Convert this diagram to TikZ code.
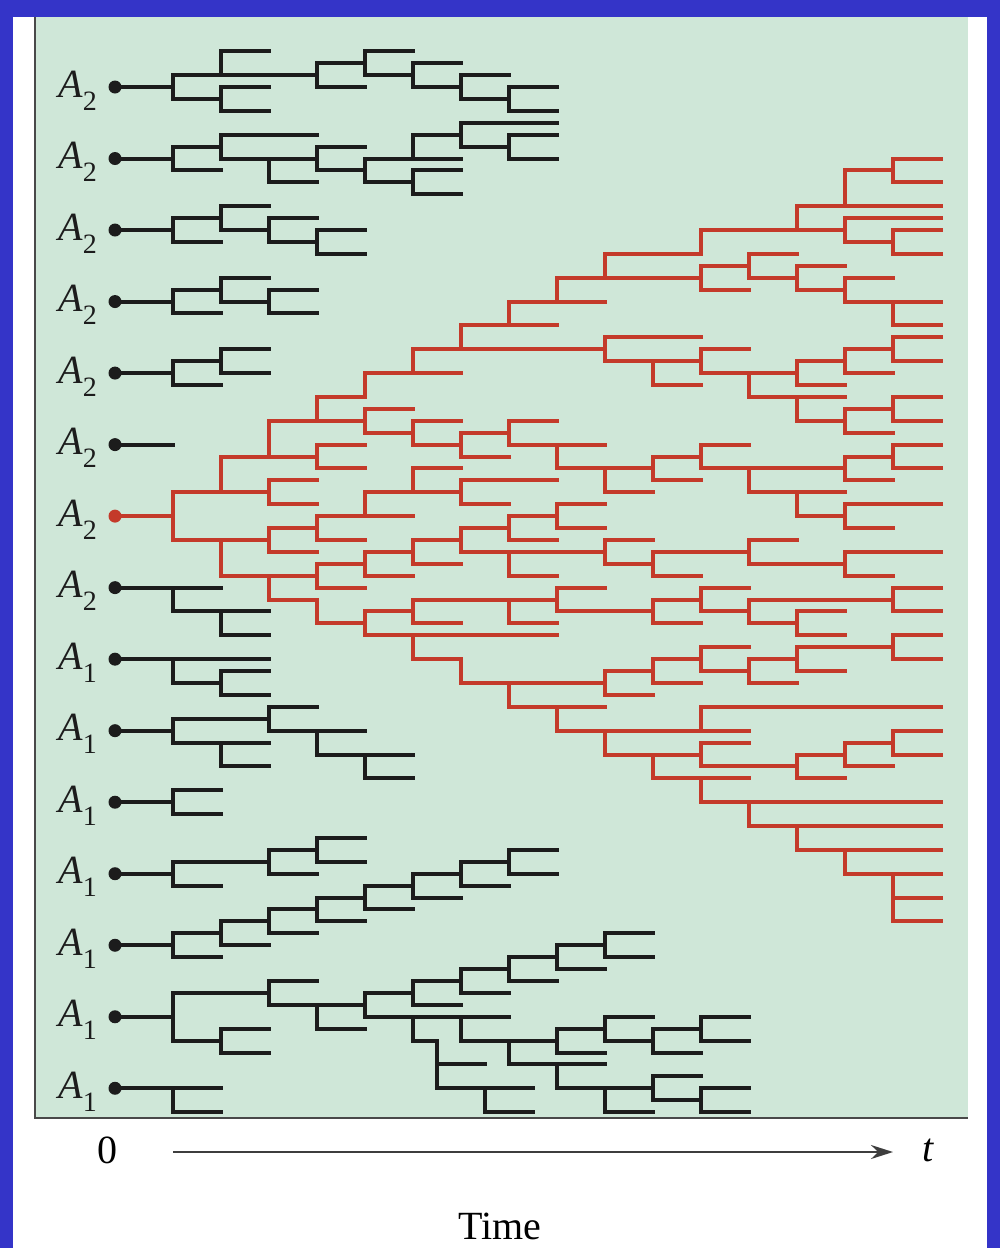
\documentclass[tikz,border=0pt]{standalone}
\usepackage{fontspec}
\setmainfont{Liberation Serif}
\usetikzlibrary{arrows.meta}
\definecolor{bluebd}{RGB}{52,52,200}
\definecolor{panel}{RGB}{207,231,216}
\definecolor{redl}{RGB}{196,58,42}
\definecolor{blk}{RGB}{28,28,28}
\def\rb{0}
\newcommand\hz[3]{\draw ({173+48*(#2)},{87+11.92*(\rb+(#1))}) -- ({173+48*(#3)},{87+11.92*(\rb+(#1))});}
\newcommand\vt[3]{\draw ({173+48*(#1)},{87+11.92*(\rb+(#2))}) -- ({173+48*(#1)},{87+11.92*(\rb+(#3))});}
\newcommand\rt[1]{\draw (115,{87+11.92*\rb}) -- ({173+48*(#1)},{87+11.92*\rb});}
\newcommand\sub[1]{\raisebox{-.33em}{\fontsize{28}{28}\selectfont #1}}
\newcommand\lab[2]{\node[lbl] (lab#1) at (97,{97+11.92*6*#1}) {{\itshape A}\sub{#2}};
  \fill (115,{87+11.92*6*#1}) circle (6.5);}
\begin{document}
\begin{tikzpicture}[x=1pt,y=-1pt,
  lbl/.style={anchor=base east,inner sep=0pt,font=\fontsize{40}{44}\selectfont},
  tr/.style={line width=4pt,line cap=rect},
  axl/.style={font=\fontsize{40}{44}\selectfont,inner sep=0pt}]
\useasboundingbox (0,0) rectangle (1000,1248);
\fill[bluebd] (0,0) rectangle (1000,1248);
\fill[white] (13,17) rectangle (987,1248);
\fill[panel] (35,17) rectangle (968,1118);
\draw[line width=2pt,blk!80] (35,17) -- (35,1118) -- (968,1118);
% labels and dots
\begin{scope}[blk]
\lab{0}{2}\lab{1}{2}\lab{2}{2}\lab{3}{2}\lab{4}{2}\lab{5}{2}
\node[lbl] (lab6) at (97,{97+11.92*36}) {{\itshape A}\sub{2}};
\lab{7}{2}\lab{8}{1}\lab{9}{1}\lab{10}{1}\lab{11}{1}\lab{12}{1}\lab{13}{1}\lab{14}{1}
\end{scope}
\fill[redl] (115,{87+11.92*36}) circle (6.5);
% black trees
\begin{scope}[tr,blk]
% tree 1
\def\rb{0}
\rt{0}\vt{0}{-1}{1}
\hz{-1}{0}{3}\vt{1}{-3}{-1}\hz{-3}{1}{2}
\vt{3}{-2}{0}\hz{0}{3}{4}\hz{-2}{3}{4}\vt{4}{-3}{-1}\hz{-3}{4}{5}\hz{-1}{4}{5}\vt{5}{-2}{0}\hz{-2}{5}{6}\hz{0}{5}{6}\vt{6}{-1}{1}\hz{-1}{6}{7}\hz{1}{6}{7}\vt{7}{0}{2}\hz{0}{7}{8}\hz{2}{7}{8}
\hz{1}{0}{1}\vt{1}{0}{2}\hz{0}{1}{2}\hz{2}{1}{2}
% tree 2
\def\rb{6}
\rt{0}\vt{0}{-1}{1}\hz{1}{0}{1}
\hz{-1}{0}{1}\vt{1}{-2}{0}\hz{-2}{1}{3}
\hz{0}{1}{3}\vt{2}{0}{2}\hz{2}{2}{3}
\vt{3}{-1}{1}\hz{-1}{3}{4}\hz{1}{3}{4}\vt{4}{0}{2}
\hz{2}{4}{5}\vt{5}{1}{3}\hz{1}{5}{6}\hz{3}{5}{6}
\hz{0}{4}{5}\vt{5}{-2}{0}\hz{0}{5}{6}\hz{-2}{5}{6}\vt{6}{-3}{-1}\hz{-3}{6}{8}\hz{-1}{6}{7}\vt{7}{-2}{0}\hz{-2}{7}{8}\hz{0}{7}{8}
% tree 3
\def\rb{12}
\rt{0}\vt{0}{-1}{1}\hz{1}{0}{1}\hz{-1}{0}{1}\vt{1}{-2}{0}\hz{-2}{1}{2}\hz{0}{1}{2}\vt{2}{-1}{1}\hz{-1}{2}{3}\hz{1}{2}{3}\vt{3}{0}{2}\hz{0}{3}{4}\hz{2}{3}{4}
% tree 4
\def\rb{18}
\rt{0}\vt{0}{-1}{1}\hz{1}{0}{1}\hz{-1}{0}{1}\vt{1}{-2}{0}\hz{-2}{1}{2}\hz{0}{1}{2}\vt{2}{-1}{1}\hz{-1}{2}{3}\hz{1}{2}{3}
% tree 5
\def\rb{24}
\rt{0}\vt{0}{-1}{1}\hz{1}{0}{1}\hz{-1}{0}{1}\vt{1}{-2}{0}\hz{-2}{1}{2}\hz{0}{1}{2}
% tree 6
\def\rb{30}
\rt{0}
% tree 8
\def\rb{42}
\rt{1}\vt{0}{0}{2}\hz{2}{0}{2}\vt{1}{2}{4}\hz{4}{1}{2}
% tree 9
\def\rb{48}
\rt{2}\vt{0}{0}{2}\hz{2}{0}{1}\vt{1}{1}{3}\hz{1}{1}{2}\hz{3}{1}{2}
% tree 10
\def\rb{54}
\rt{0}\vt{0}{-1}{1}\hz{-1}{0}{2}\vt{2}{-2}{0}\hz{-2}{2}{3}\hz{0}{2}{4}\vt{3}{0}{2}\hz{2}{3}{4}\vt{4}{2}{4}\hz{2}{4}{5}\hz{4}{4}{5}\hz{1}{0}{1}\vt{1}{1}{3}\hz{1}{1}{2}\hz{3}{1}{2}
% tree 11
\def\rb{60}
\rt{0}\vt{0}{-1}{1}\hz{-1}{0}{1}\hz{1}{0}{1}
% tree 12
\def\rb{66}
\rt{0}\vt{0}{-1}{1}\hz{1}{0}{1}\hz{-1}{0}{2}\vt{2}{-2}{0}\hz{0}{2}{3}\hz{-2}{2}{3}\vt{3}{-3}{-1}\hz{-3}{3}{4}\hz{-1}{3}{4}
% tree 13
\def\rb{72}
\rt{0}\vt{0}{-1}{1}\hz{1}{0}{1}
\hz{-1}{0}{1}\vt{1}{-2}{0}\hz{0}{1}{2}\hz{-2}{1}{2}\vt{2}{-3}{-1}\hz{-1}{2}{3}\hz{-3}{2}{3}\vt{3}{-4}{-2}\hz{-2}{3}{4}\hz{-4}{3}{4}\vt{4}{-5}{-3}\hz{-3}{4}{5}\hz{-5}{4}{5}\vt{5}{-6}{-4}\hz{-4}{5}{6}\hz{-6}{5}{6}\vt{6}{-7}{-5}\hz{-5}{6}{7}\hz{-7}{6}{7}\vt{7}{-8}{-6}\hz{-6}{7}{8}\hz{-8}{7}{8}
% tree 14
\def\rb{78}
\rt{0}\vt{0}{-2}{2}\hz{2}{0}{1}\vt{1}{1}{3}\hz{1}{1}{2}\hz{3}{1}{2}
\hz{-2}{0}{2}\vt{2}{-3}{-1}\hz{-3}{2}{3}\hz{-1}{2}{4}\vt{3}{-1}{1}\hz{1}{3}{4}\vt{4}{-2}{0}
\hz{-2}{4}{5}\vt{5}{-3}{-1}\hz{-1}{5}{6}\hz{-3}{5}{6}\vt{6}{-4}{-2}\hz{-2}{6}{7}\hz{-4}{6}{7}\vt{7}{-5}{-3}\hz{-3}{7}{8}\hz{-5}{7}{8}\vt{8}{-6}{-4}\hz{-4}{8}{9}\hz{-6}{8}{9}\vt{9}{-7}{-5}\hz{-7}{9}{10}\hz{-5}{9}{10}
\hz{0}{4}{7}\vt{5}{0}{2}\hz{2}{5}{5.5}\vt{5.5}{2}{6}\hz{4}{5.5}{6.5}\hz{6}{5.5}{7.5}\vt{6.5}{6}{8}\hz{8}{6.5}{7.5}
\vt{6}{0}{2}\hz{2}{6}{8}\vt{7}{2}{4}\hz{4}{7}{9}
\vt{8}{1}{3}\hz{1}{8}{9}\hz{3}{8}{9}\vt{9}{0}{2}\hz{0}{9}{10}\hz{2}{9}{10}\vt{10}{1}{3}\hz{1}{10}{11}\hz{3}{10}{11}\vt{11}{0}{2}\hz{0}{11}{12}\hz{2}{11}{12}
\vt{8}{4}{6}\hz{6}{8}{10}\vt{9}{6}{8}\hz{8}{9}{10}\vt{10}{5}{7}\hz{5}{10}{11}\hz{7}{10}{11}\vt{11}{6}{8}\hz{6}{11}{12}\hz{8}{11}{12}
% tree 15
\def\rb{84}
\rt{1}\vt{0}{0}{2}\hz{2}{0}{1}
\end{scope}
% red tree
\begin{scope}[tr,redl]
\def\rb{0}
\draw (115,{87+11.92*36}) -- (173,{87+11.92*36});
\vt{0}{34}{38}
\hz{34}{0}{2}\vt{1}{31}{34}\vt{2}{33}{35}\hz{33}{2}{3}\hz{35}{2}{3}
\hz{31}{1}{3}\vt{2}{28}{31}\vt{3}{30}{32}\hz{30}{3}{4}\hz{32}{3}{4}
\hz{28}{2}{4}\vt{3}{26}{28}\vt{4}{27}{29}\hz{27}{4}{5}\hz{29}{4}{5}\vt{5}{28}{30}\hz{28}{5}{6}\hz{30}{5}{6}\vt{6}{29}{31}\hz{31}{6}{7}\hz{29}{6}{7}\vt{7}{28}{30}\hz{28}{7}{8}\hz{30}{7}{9}\vt{8}{30}{32}\hz{32}{8}{10}\vt{9}{32}{34}\hz{34}{9}{10}\vt{10}{31}{33}\hz{33}{10}{11}\hz{31}{10}{11}\vt{11}{30}{32}\hz{30}{11}{12}\hz{32}{11}{14}\vt{12}{32}{34}\hz{34}{12}{14}\vt{13}{34}{36}\hz{36}{13}{14}\vt{14}{35}{37}\hz{35}{14}{16}\hz{37}{14}{15}\vt{14}{31}{33}\hz{31}{14}{15}\hz{33}{14}{15}\vt{15}{30}{32}\hz{30}{15}{16}\hz{32}{15}{16}
% staircase
\hz{26}{3}{4}\vt{4}{24}{26}\hz{24}{4}{6}\vt{5}{22}{24}\hz{22}{5}{9}\vt{6}{20}{22}\hz{20}{6}{8}\vt{7}{18}{20}\hz{18}{7}{9}\vt{8}{16}{18}\hz{16}{8}{11}\vt{9}{14}{16}\hz{14}{9}{11}\vt{11}{12}{14}\hz{12}{11}{14}\vt{13}{10}{12}\hz{10}{13}{16}\vt{14}{7}{10}\hz{7}{14}{15}\vt{15}{6}{8}\hz{6}{15}{16}\hz{8}{15}{16}\vt{14}{11}{13}\hz{11}{14}{16}\hz{13}{14}{15}\vt{15}{12}{14}\hz{12}{15}{16}\hz{14}{15}{16}
\vt{11}{15}{17}\hz{15}{11}{12}\hz{17}{11}{12}\vt{12}{14}{16}\hz{14}{12}{13}\hz{16}{12}{13}\vt{13}{15}{17}\hz{15}{13}{14}\hz{17}{13}{14}\vt{14}{16}{18}\hz{16}{14}{15}\hz{18}{14}{15}\vt{15}{18}{20}\hz{18}{15}{16}\hz{20}{15}{16}
% j22 branch
\vt{9}{21}{23}\hz{21}{9}{11}\hz{23}{9}{11}\vt{10}{23}{25}\hz{25}{10}{11}\vt{11}{22}{24}\hz{22}{11}{12}\hz{24}{11}{13}\vt{12}{24}{26}\hz{26}{12}{14}\vt{13}{26}{28}\hz{28}{13}{14}\vt{14}{27}{29}\hz{27}{14}{15}\hz{29}{14}{15}\vt{15}{26}{28}\hz{26}{15}{16}\hz{28}{15}{16}\vt{13}{23}{25}\hz{25}{13}{14}\hz{23}{13}{14}\vt{14}{22}{24}\hz{24}{14}{15}\hz{22}{14}{15}\vt{15}{21}{23}\hz{21}{15}{16}\hz{23}{15}{16}
% lower branch
\hz{38}{0}{2}\vt{1}{38}{41}\vt{2}{37}{39}\hz{37}{2}{3}\hz{39}{2}{3}\vt{3}{36}{38}\hz{38}{3}{4}\hz{36}{3}{5}\vt{4}{34}{36}\hz{34}{4}{6}\vt{5}{32}{34}\hz{32}{5}{6}\vt{6}{33}{35}\hz{35}{6}{7}\hz{33}{6}{8}
\hz{41}{1}{3}\vt{2}{41}{43}\vt{3}{40}{42}\hz{40}{3}{4}\hz{42}{3}{4}\vt{4}{39}{41}\hz{41}{4}{5}\hz{39}{4}{5}\vt{5}{38}{40}\hz{40}{5}{6}\hz{38}{5}{6}\vt{6}{37}{39}\hz{37}{6}{7}\vt{7}{36}{38}\hz{36}{7}{8}\hz{38}{7}{8}\hz{39}{6}{9}\vt{7}{39}{41}\hz{41}{7}{8}
\vt{8}{35}{37}\hz{35}{8}{9}\hz{37}{8}{9}
\vt{9}{38}{40}\hz{38}{9}{10}\hz{40}{9}{10}\vt{10}{39}{41}\hz{41}{10}{11}\hz{39}{10}{12}\vt{12}{38}{40}\hz{38}{12}{13}\hz{40}{12}{14}\vt{14}{39}{41}\hz{39}{14}{16}\hz{41}{14}{15}
\hz{43}{2}{3}\vt{3}{43}{45}\hz{45}{3}{4}\vt{4}{44}{46}\hz{44}{4}{5}\vt{5}{43}{45}\hz{45}{5}{6}\hz{43}{5}{8}\vt{7}{43}{45}\hz{45}{7}{8}
\vt{8}{42}{44}\hz{42}{8}{9}\hz{44}{8}{10}\vt{10}{43}{45}\hz{45}{10}{11}\hz{43}{10}{11}\vt{11}{42}{44}\hz{42}{11}{12}\hz{44}{11}{12}\vt{12}{43}{45}\hz{43}{12}{15}\vt{15}{42}{44}\hz{42}{15}{16}\hz{44}{15}{16}\hz{45}{12}{13}\vt{13}{44}{46}\hz{44}{13}{14}\hz{46}{13}{14}
\hz{46}{4}{8}\vt{5}{46}{48}
\hz{48}{5}{6}\vt{6}{48}{50}\hz{50}{6}{9}\vt{7}{50}{52}\hz{52}{7}{9}
\vt{9}{49}{51}\hz{51}{9}{10}\hz{49}{9}{10}\vt{10}{48}{50}\hz{50}{10}{11}\hz{48}{10}{11}\vt{11}{47}{49}\hz{47}{11}{12}\hz{49}{11}{12}\vt{12}{48}{50}\hz{50}{12}{13}\hz{48}{12}{13}\vt{13}{47}{49}\hz{49}{13}{14}\hz{47}{13}{15}\vt{15}{46}{48}\hz{46}{15}{16}\hz{48}{15}{16}
\vt{8}{52}{54}\hz{54}{8}{12}\vt{11}{52}{54}\hz{52}{11}{16}\vt{9}{54}{56}\hz{56}{9}{11}\vt{10}{56}{58}\hz{58}{10}{12}\vt{11}{55}{57}\hz{55}{11}{12}\hz{57}{11}{13}\vt{13}{56}{58}\hz{58}{13}{14}\hz{56}{13}{14}\vt{14}{55}{57}\hz{57}{14}{15}\hz{55}{14}{15}\vt{15}{54}{56}\hz{54}{15}{16}\hz{56}{15}{16}
\vt{11}{58}{60}\hz{60}{11}{16}\vt{12}{60}{62}\hz{62}{12}{16}\vt{13}{62}{64}\hz{64}{13}{16}\vt{14}{64}{66}\hz{66}{14}{16}\vt{15}{66}{70}\hz{68}{15}{16}\hz{70}{15}{16}
\end{scope}
% axis
\node[axl] (zero) at (107,1150) {0};
\node[axl] (tlab) at (928,1150) {\itshape t};
\coordinate (ax0) at (173,1152);
\coordinate (ax1) at (893,1152);
\draw[line width=2pt,blk!85,-{Stealth[length=22pt,width=14pt]}] (ax0) -- (ax1);
\node[axl] (time) at (500,1226) {Time};
\end{tikzpicture}
\end{document}
